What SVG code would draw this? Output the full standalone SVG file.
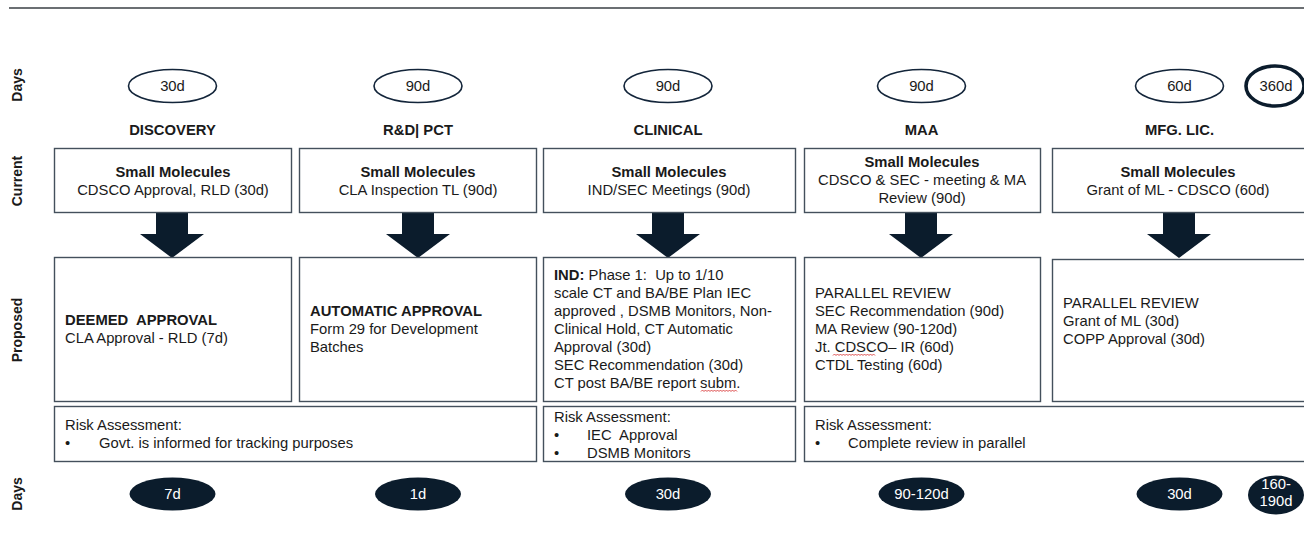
<svg xmlns="http://www.w3.org/2000/svg" width="1304" height="539" viewBox="0 0 1304 539">
  <defs>
    <style>
      text { font-family: "Liberation Sans", Arial, sans-serif; font-size: 14.8px; fill: #1a1a1a; white-space: pre; }
      .b { font-weight: bold; }
      .mid { text-anchor: middle; }
      .side { font-weight: bold; font-size: 14px; text-anchor: middle; }
      .box { fill: #ffffff; stroke: #44505c; stroke-width: 1.4; }
      .oval { fill: #ffffff; stroke: #13253a; stroke-width: 1.6; }
      .oval-total { fill: #ffffff; stroke: #0b1c2c; stroke-width: 3.6; }
      .pill { fill: #0b1c2c; }
      .pill-t { fill: #ffffff; text-anchor: middle; }
      .arrow { fill: #0b1c2c; }
      .squiggle { fill: none; stroke: #d83a3a; stroke-width: 0.9; }
    </style>
    <path id="down-arrow" d="M-16,0 H16 V22 H32 L0,46 L-32,22 H-16 Z"/>
  </defs>

  <rect width="1304" height="539" fill="#ffffff"/>
  <line x1="9" y1="8" x2="1304" y2="8" stroke="#3a3f44" stroke-width="1.4"/>

  <!-- row labels -->
  <g id="row-labels">
    <text class="side" transform="translate(22,85) rotate(-90)">Days</text>
    <text class="side" transform="translate(22,181) rotate(-90)">Current</text>
    <text class="side" transform="translate(22,330) rotate(-90)">Proposed</text>
    <text class="side" transform="translate(22,494) rotate(-90)">Days</text>
  </g>

  <!-- connectors: down arrows from current to proposed -->
  <g id="connectors">
    <use href="#down-arrow" class="arrow" x="172" y="212"/>
    <use href="#down-arrow" class="arrow" x="418" y="212"/>
    <use href="#down-arrow" class="arrow" x="668" y="212"/>
    <use href="#down-arrow" class="arrow" x="921" y="212"/>
    <use href="#down-arrow" class="arrow" x="1179" y="212"/>
  </g>

  <!-- Discovery column -->
  <g id="discovery">
    <ellipse class="oval" cx="172.5" cy="86" rx="44" ry="16.5"/>
    <text class="mid" x="172.5" y="91">30d</text>
    <text class="b mid" x="172.5" y="135">DISCOVERY</text>
    <rect class="box" x="54.5" y="148.5" width="237" height="64"/>
    <text class="b mid" x="173" y="177">Small Molecules</text>
    <text class="mid" x="173" y="195">CDSCO Approval, RLD (30d)</text>
    <rect class="box" x="54.5" y="257.5" width="237" height="144"/>
    <text class="b" x="65" y="325">DEEMED  APPROVAL</text>
    <text x="65" y="343">CLA Approval - RLD (7d)</text>
    <ellipse class="pill" cx="172.5" cy="494" rx="43" ry="16.5"/>
    <text class="pill-t" x="172.5" y="499">7d</text>
  </g>

  <!-- R&D | PCT column -->
  <g id="rnd-pct">
    <ellipse class="oval" cx="418" cy="86" rx="44" ry="16.5"/>
    <text class="mid" x="418" y="91">90d</text>
    <text class="b mid" x="418" y="135">R&amp;D| PCT</text>
    <rect class="box" x="299.5" y="148.5" width="237" height="64"/>
    <text class="b mid" x="418" y="177">Small Molecules</text>
    <text class="mid" x="418" y="195">CLA Inspection TL (90d)</text>
    <rect class="box" x="299.5" y="257.5" width="237" height="144"/>
    <text class="b" x="310" y="316">AUTOMATIC APPROVAL</text>
    <text x="310" y="334">Form 29 for Development</text>
    <text x="310" y="352">Batches</text>
    <ellipse class="pill" cx="418" cy="494" rx="43" ry="16.5"/>
    <text class="pill-t" x="418" y="499">1d</text>
  </g>

  <!-- shared risk box for discovery and R&D -->
  <g id="risk-early">
    <rect class="box" x="54.5" y="406.5" width="482" height="55"/>
    <text x="65" y="430">Risk Assessment:</text>
    <text x="65" y="448">•</text>
    <text x="99" y="448">Govt. is informed for tracking purposes</text>
  </g>

  <!-- Clinical column -->
  <g id="clinical">
    <ellipse class="oval" cx="668" cy="86" rx="44" ry="16.5"/>
    <text class="mid" x="668" y="91">90d</text>
    <text class="b mid" x="668" y="135">CLINICAL</text>
    <rect class="box" x="543.5" y="148.5" width="252" height="64"/>
    <text class="b mid" x="669" y="177">Small Molecules</text>
    <text class="mid" x="669" y="195">IND/SEC Meetings (90d)</text>
    <rect class="box" x="543.5" y="257.5" width="252" height="144"/>
    <text x="554" y="280"><tspan class="b">IND:</tspan> Phase 1:  Up to 1/10</text>
    <text x="554" y="298">scale CT and BA/BE Plan IEC</text>
    <text x="554" y="316">approved , DSMB Monitors, Non-</text>
    <text x="554" y="334">Clinical Hold, CT Automatic</text>
    <text x="554" y="352">Approval (30d)</text>
    <text x="554" y="370">SEC Recommendation (30d)</text>
    <text x="554" y="388">CT post BA/BE report subm.</text>
    <path class="squiggle" d="M701,391.5 l1.5,-1.5 l1.5,1.5 l1.5,-1.5 l1.5,1.5 l1.5,-1.5 l1.5,1.5 l1.5,-1.5 l1.5,1.5 l1.5,-1.5 l1.5,1.5 l1.5,-1.5 l1.5,1.5 l1.5,-1.5 l1.5,1.5 l1.5,-1.5 l1.5,1.5 l1.5,-1.5 l1.5,1.5 l1.5,-1.5 l1.5,1.5 l1.5,-1.5 l1.5,1.5 l1.5,-1.5 l1.5,1.5"/>
    <rect class="box" x="543.5" y="406.5" width="252" height="55"/>
    <text x="554" y="422">Risk Assessment:</text>
    <text x="554" y="440">•</text>
    <text x="587" y="440">IEC  Approval</text>
    <text x="554" y="458">•</text>
    <text x="587" y="458">DSMB Monitors</text>
    <ellipse class="pill" cx="668" cy="494" rx="43" ry="16.5"/>
    <text class="pill-t" x="668" y="499">30d</text>
  </g>

  <!-- MAA column -->
  <g id="maa">
    <ellipse class="oval" cx="921.5" cy="86" rx="44" ry="16.5"/>
    <text class="mid" x="921.5" y="91">90d</text>
    <text class="b mid" x="921.5" y="135">MAA</text>
    <rect class="box" x="804.5" y="148.5" width="236" height="64"/>
    <text class="b mid" x="922" y="167">Small Molecules</text>
    <text class="mid" x="922" y="185">CDSCO &amp; SEC - meeting &amp; MA</text>
    <text class="mid" x="922" y="203">Review (90d)</text>
    <rect class="box" x="804.5" y="257.5" width="236" height="144"/>
    <text x="815" y="298">PARALLEL REVIEW</text>
    <text x="815" y="316">SEC Recommendation (90d)</text>
    <text x="815" y="334">MA Review (90-120d)</text>
    <text x="815" y="352">Jt. CDSCO– IR (60d)</text>
    <text x="815" y="370">CTDL Testing (60d)</text>
    <path class="squiggle" d="M833,355.5 l1.5,-1.5 l1.5,1.5 l1.5,-1.5 l1.5,1.5 l1.5,-1.5 l1.5,1.5 l1.5,-1.5 l1.5,1.5 l1.5,-1.5 l1.5,1.5 l1.5,-1.5 l1.5,1.5 l1.5,-1.5 l1.5,1.5 l1.5,-1.5 l1.5,1.5 l1.5,-1.5 l1.5,1.5 l1.5,-1.5 l1.5,1.5 l1.5,-1.5 l1.5,1.5 l1.5,-1.5 l1.5,1.5 l1.5,-1.5 l1.5,1.5 l1.5,-1.5 l1.5,1.5"/>
    <ellipse class="pill" cx="921.5" cy="494" rx="43" ry="16.5"/>
    <text class="pill-t" x="921.5" y="499">90-120d</text>
  </g>

  <!-- shared risk box for MAA and manufacturing licence -->
  <g id="risk-late">
    <rect class="box" x="804.5" y="406.5" width="510" height="55"/>
    <text x="815" y="430">Risk Assessment:</text>
    <text x="815" y="448">•</text>
    <text x="848" y="448">Complete review in parallel</text>
  </g>

  <!-- Manufacturing licence column -->
  <g id="mfg-lic">
    <ellipse class="oval" cx="1179.5" cy="86" rx="44" ry="16.5"/>
    <text class="mid" x="1179.5" y="91">60d</text>
    <text class="b mid" x="1179.5" y="135">MFG. LIC.</text>
    <rect class="box" x="1052.5" y="148.5" width="262" height="64"/>
    <text class="b mid" x="1178" y="177">Small Molecules</text>
    <text class="mid" x="1178" y="195">Grant of ML - CDSCO (60d)</text>
    <rect class="box" x="1052.5" y="259.5" width="262" height="142"/>
    <text x="1063" y="308">PARALLEL REVIEW</text>
    <text x="1063" y="326">Grant of ML (30d)</text>
    <text x="1063" y="344">COPP Approval (30d)</text>
    <ellipse class="pill" cx="1179.5" cy="494" rx="43" ry="16.5"/>
    <text class="pill-t" x="1179.5" y="499">30d</text>
  </g>

  <!-- totals -->
  <g id="totals">
    <ellipse class="oval-total" cx="1275" cy="86" rx="29" ry="20"/>
    <text class="mid" x="1276" y="91">360d</text>
    <ellipse class="pill" cx="1276" cy="495" rx="28" ry="19.5"/>
    <text class="pill-t" x="1276" y="489">160-</text>
    <text class="pill-t" x="1276" y="506">190d</text>
  </g>
</svg>
